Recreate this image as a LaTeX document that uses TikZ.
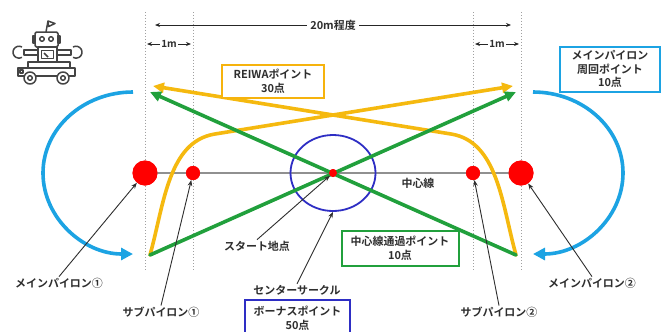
\documentclass[tikz,border=0pt]{standalone}
\usepackage{fontspec}
\setmainfont{Noto Sans CJK JP}[BoldFont={* Bold}]
\usetikzlibrary{arrows.meta,shapes.geometric}
\definecolor{ylw}{HTML}{F5B90F}
\definecolor{grn}{HTML}{21A03C}
\definecolor{sky}{HTML}{1CA3E3}
\definecolor{ring}{HTML}{2E2EC4}
\definecolor{ink}{HTML}{2E2E2E}
\definecolor{guide}{HTML}{A0A0A0}
\definecolor{robo}{HTML}{444444}

\tikzset{
  lbl/.style={inner sep=1bp, text=ink, font=\fontsize{11}{13}\selectfont\bfseries},
  scorebox/.style={draw, line width=2bp, fill=white, align=center, inner sep=0bp,
    text=ink, font=\fontsize{11}{13.5}\selectfont\bfseries},
  pylon/.style={circle, fill=red, draw=none, inner sep=0bp},
  route/.style={line width=3.6bp, line cap=round, line join=round,
    -{Triangle[length=11bp,width=10bp]}},
  orbit/.style={sky, line width=3.6bp, -{Triangle[length=12bp,width=12bp]}},
  leader/.style={ink, line width=0.9bp, -{Stealth[length=6bp,width=4.5bp]}},
  guideline/.style={guide, line width=1bp, dotted},
  dimline/.style={black!85, line width=1bp,
    {Stealth[length=5bp,width=4bp]}-{Stealth[length=5bp,width=4bp]}},
  robotline/.style={robo, line width=1.5bp, line join=round}
}

\begin{document}
\begin{tikzpicture}[x=1bp,y=-1bp]
\useasboundingbox (0,0) rectangle (662,331);
\fill[white] (0,0) rectangle (662,331);

% dotted guides through the pylons
\foreach \gx/\gn in {145/ga,193/gb,473/gc,521/gd}{
  \coordinate (\gn top) at (\gx,12);
  \coordinate (\gn bot) at (\gx,272);
  \draw[guideline] (\gn top) -- (\gn bot);
}

% overall distance
\coordinate (wl) at (155,25);
\coordinate (wr) at (511,25);
\draw[dimline] (wl) -- node[fill=white, inner sep=3bp, text=ink,
  font=\fontsize{11}{13}\selectfont\bfseries] {20m程度} (wr);

% 1 m offsets
\coordinate (al) at (147,44);
\coordinate (ar) at (191,44);
\coordinate (bl) at (475,44);
\coordinate (br) at (519,44);
\draw[dimline] (al) -- node[fill=white, inner sep=1.5bp, text=ink,
  font=\fontsize{10}{12}\selectfont\bfseries] {1m} (ar);
\draw[dimline] (bl) -- node[fill=white, inner sep=1.5bp, text=ink,
  font=\fontsize{10}{12}\selectfont\bfseries] {1m} (br);

% pylons and centre point
\node[pylon, minimum size=25bp] (mp1) at (145,173) {};
\node[pylon, minimum size=14bp] (sp1) at (193,173) {};
\node[pylon, minimum size=8bp]  (st)  at (333,173) {};
\node[pylon, minimum size=14bp] (sp2) at (473,173) {};
\node[pylon, minimum size=25bp] (mp2) at (521,173) {};

% centre line
\draw[guide!90!black, line width=1.3bp] (mp1.center) -- (mp2.center);

% centre circle
\node[ellipse, draw=ring, line width=1.8bp, minimum width=85bp,
  minimum height=76bp, inner sep=0bp] (cc) at (333,173) {};

% laps around the main pylons
\coordinate (o1s) at (133,92);
\coordinate (o2s) at (533,92);
\draw[orbit] (o1s) arc[start angle=90, end angle=270, x radius=90bp, y radius=81bp];
\draw[orbit] (o2s) arc[start angle=90, end angle=-90, x radius=90bp, y radius=81bp];

% REIWA routes
\coordinate (ys1) at (150,255);
\coordinate (ye1) at (513,86);
\coordinate (ys2) at (516,255);
\coordinate (ye2) at (153,86);
\draw[route, ylw] (ys1) .. controls (164,205) and (168,141.5) .. (215,134) -- (ye1);
\draw[route, ylw] (ys2) .. controls (502,205) and (498,141.5) .. (451,134) -- (ye2);

% centre line crossings
\coordinate (gs1) at (150,255);
\coordinate (ge1) at (516,92);
\coordinate (gs2) at (516,255);
\coordinate (ge2) at (150,92);
\draw[route, grn] (gs1) -- (ge1);
\draw[route, grn] (gs2) -- (ge2);

% pylons drawn again on top of the routes
\node[pylon, minimum size=25bp] at (mp1) {};
\node[pylon, minimum size=14bp] at (sp1) {};
\node[pylon, minimum size=8bp]  at (st) {};
\node[pylon, minimum size=14bp] at (sp2) {};
\node[pylon, minimum size=25bp] at (mp2) {};

% score boxes
\node[scorebox, draw=ylw!90!orange, minimum width=102bp, minimum height=33bp]
  (reiwa) at (273,81) {REIWAポイント\\30点};
\node[scorebox, draw=sky, minimum width=100bp, minimum height=45bp]
  (lap) at (610,69) {メインパイロン\\周回ポイント\\10点};
\node[scorebox, draw=grn, minimum width=117bp, minimum height=35bp]
  (pass) at (400,248) {中心線通過ポイント\\10点};
\node[scorebox, draw=ring, minimum width=105bp, minimum height=36bp, anchor=north]
  (bonus) at (297.5,299) {ボーナスポイント\\50点};

% labels
\node[lbl] (cl)  at (418,183) {中心線};
\node[lbl] (ml1) at (59,283)  {メインパイロン①};
\node[lbl] (sl1) at (161,312) {サブパイロン①};
\node[lbl] (ml2) at (592,283) {メインパイロン②};
\node[lbl] (sl2) at (499,312) {サブパイロン②};
\node[lbl] (stl) at (257,246) {スタート地点};
\node[lbl] (ccl) at (297,290) {センターサークル};

% leaders
\draw[leader] (ml1.north) -- (mp1);
\draw[leader] (sl1.north) -- (sp1);
\draw[leader] (ml2.north) -- (mp2);
\draw[leader] (sl2.north) -- (sp2);
\draw[leader] (stl.north) -- (st);
\draw[leader] (ccl.north) -- (cc.south);

% robot icon
\begin{scope}[robotline]
  % antenna with flag
  \draw (46,32) -- (48,21);
  \draw[fill=white] (48,21) -- (55,23.5) -- (48.5,26.5) -- cycle;
  % head
  \draw[fill=white, rounded corners=1.5bp] (35,32) rectangle (58,47);
  \draw (33,36) rectangle (35,43);
  \draw (58,36) rectangle (60,43);
  \draw (42,39) circle[radius=2.3bp];
  \draw (51,39) circle[radius=2.3bp];
  % arms with wrenches
  \draw (24,50) rectangle (38,55);
  \draw (57,50) rectangle (71,55);
  \draw (22,47) arc[start angle=60, end angle=300, radius=6bp];
  \draw (73,47) arc[start angle=120, end angle=-120, radius=6bp];
  % torso with screen
  \draw[fill=white] (38,47) rectangle (57,62);
  \draw (41.5,50.5) rectangle (53.5,58.5);
  \draw (44,53) -- (48,57);
  % base and wheels
  \draw[fill=white] (28,62) rectangle (70,68);
  \draw[fill=white] (18,68) rectangle (75,76);
  \draw (20,70) rectangle (23,73);
  \draw[fill=white] (30,78) circle[radius=6bp];
  \draw (30,78) circle[radius=2.3bp];
  \draw[fill=white] (63,78) circle[radius=6bp];
  \draw (63,78) circle[radius=2.3bp];
\end{scope}
\end{tikzpicture}
\end{document}
